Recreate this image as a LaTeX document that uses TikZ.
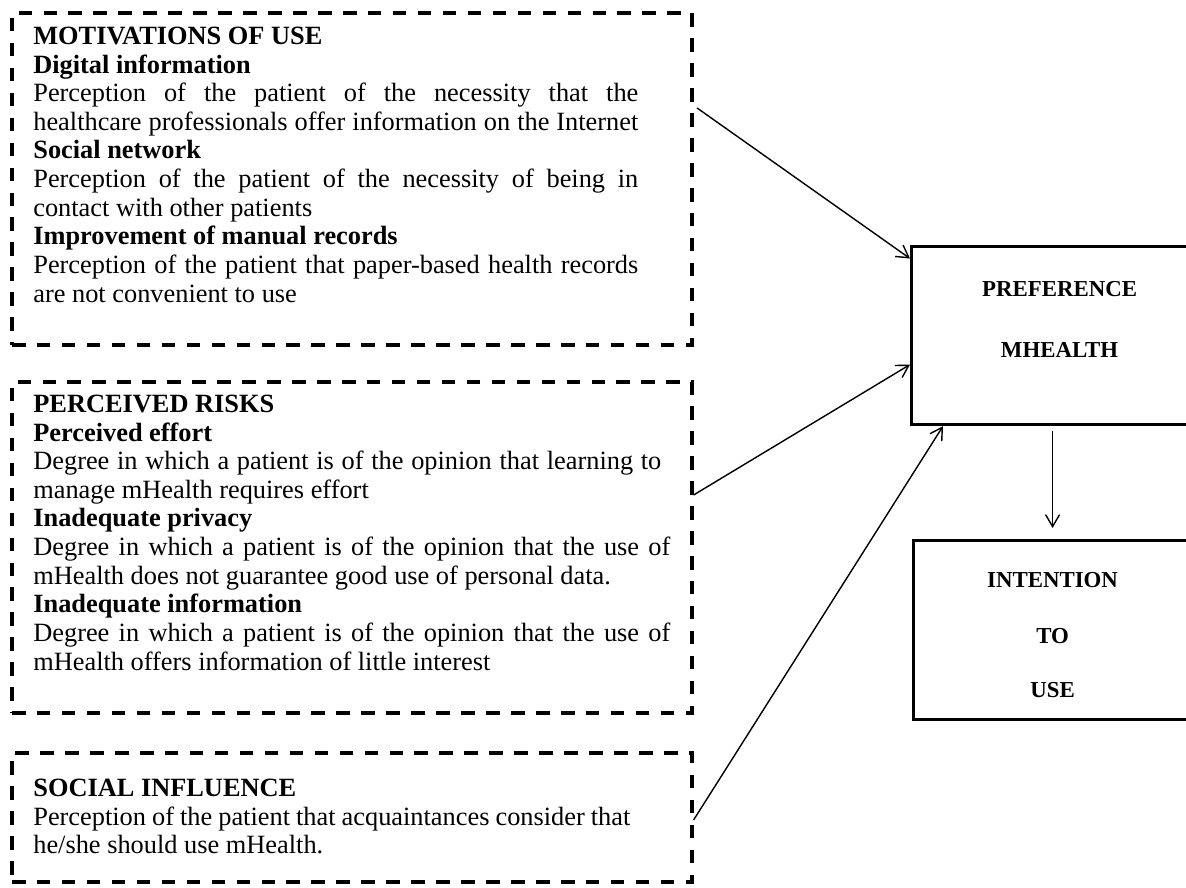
\documentclass[tikz,border=0pt]{standalone}
\usepackage{fontspec}
\setmainfont{Liberation Serif}
\usepackage{tikz}
\usetikzlibrary{arrows.meta,positioning}
\tikzset{>={Straight Barb[length=2.4mm,width=2.8mm]}}
\tikzset{
  factorbox/.style={draw,line width=1.8pt,dash pattern=on 7.7pt off 6.5pt,minimum width=13.6cm,inner sep=0pt},
  factortext/.style={anchor=north west,inner sep=0pt,text width=13cm,align=justify,font=\fontsize{15}{16.3}\selectfont},
  outcomebox/.style={draw,line width=1.8pt,inner sep=0pt,anchor=north west},
  outcometext/.style={anchor=base,inner sep=0pt,font=\fontsize{13}{15}\selectfont\bfseries},
  link/.style={->,line width=0.8pt}
}
\newcommand{\fullline}[2]{\makebox[#1][s]{\spaceskip=0pt\xspaceskip=0pt\relax #2}}

\begin{document}
\begin{tikzpicture}
            \useasboundingbox (0,0) rectangle (23.72,17.74);
            \node[factorbox,minimum height=6.64cm] (MU) at (7.04,14.16) {};
            \node[factorbox,minimum height=6.62cm] (PR) at (7.04,6.79) {};
            \node[factorbox,minimum height=2.58cm] (SI) at (7.04,1.39) {};
            \node[factortext] (MUtext) at (0.66,17.26) {\strut\textbf{MOTIVATIONS OF USE}\\
                \textbf{Digital information}\\
                \fullline{12.1cm}{Perception of the patient of the necessity that the}\\
                \fullline{12.1cm}{healthcare professionals offer information on the Internet}\\
                \textbf{Social network}\\
                \fullline{12.1cm}{Perception of the patient of the necessity of being in}\\
                contact with other patients\\
                \textbf{Improvement of manual records}\\
                \fullline{12.1cm}{Perception of the patient that paper-based health records}\\
                are not convenient to use};
            \node[factortext] (PRtext) at (0.66,9.90) {\strut\textbf{PERCEIVED RISKS}\\
                \textbf{Perceived effort}\\
                \fullline{12.56cm}{Degree in which a patient is of the opinion that learning to}\\
                manage mHealth requires effort\\
                \textbf{Inadequate privacy}\\
                \fullline{12.74cm}{Degree in which a patient is of the opinion that the use of}\\
                mHealth does not guarantee good use of personal data.\\
                \textbf{Inadequate information}\\
                \fullline{12.74cm}{Degree in which a patient is of the opinion that the use of}\\
                mHealth offers information of little interest};
            \node[factortext] (SItext) at (0.66,2.22) {\strut\textbf{SOCIAL INFLUENCE}\\
                \fullline{11.94cm}{Perception of the patient that acquaintances consider that}\\
                he/she should use mHealth.};
            \node[outcomebox,minimum width=5.92cm,minimum height=3.56cm] (PM) at (18.2,12.84) {};
            \node[outcometext] (PMa) at ([yshift=-1.04cm]PM.north) {PREFERENCE};
            \node[outcometext] (PMb) at ([yshift=-2.26cm]PM.north) {MHEALTH};
            \node[outcomebox,minimum width=5.56cm,minimum height=3.58cm] (IU) at (18.24,6.96) {};
            \node[outcometext] (IUa) at ([yshift=-0.96cm]IU.north) {INTENTION};
            \node[outcometext] (IUb) at ([yshift=-2.08cm]IU.north) {TO};
            \node[outcometext] (IUc) at ([yshift=-3.16cm]IU.north) {USE};
            \draw [link] ([xshift=0.07cm,yshift=1.42cm]MU.east) -- ([yshift=-0.27cm]PM.north west);
            \draw [link] ([yshift=1.05cm]PR.east) -- ([yshift=-0.58cm]PM.west);
            \draw [link] ([yshift=-0.05cm]SI.east) -- ([xshift=0.66cm]PM.south west);
            \draw [link,shorten <=0.1cm,shorten >=0.22cm] (PM.south -| IU.north) -- (IU.north);
\end{tikzpicture}
\end{document}
